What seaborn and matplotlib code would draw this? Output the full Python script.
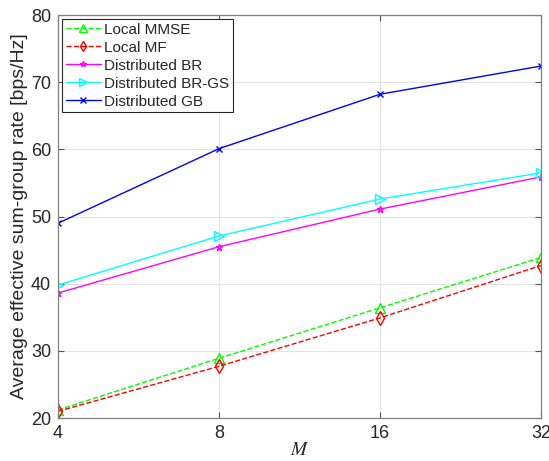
import matplotlib
matplotlib.use("Agg")
import matplotlib.pyplot as plt
import seaborn as sns
import pandas as pd

sns.set_theme(style="whitegrid")
plt.rcParams["font.family"] = ["Liberation Sans", "DejaVu Sans"]
plt.rcParams["mathtext.fontset"] = "stix"

M = [4, 8, 16, 32]
local_mmse = [21.2, 28.9, 36.4, 43.9]
local_mf = [21.0, 27.7, 34.9, 42.7]
dist_br = [38.6, 45.5, 51.1, 55.9]
dist_br_gs = [39.8, 47.1, 52.6, 56.5]
dist_gb = [49.0, 60.1, 68.2, 72.4]

series = [
    ("Local MMSE", local_mmse, (0, 1, 0), "^", "--", 7),
    ("Local MF", local_mf, (1, 0, 0), "d", "--", 7),
    ("Distributed BR", dist_br, (1, 0, 1), "*", "-", 5),
    ("Distributed BR-GS", dist_br_gs, (0, 1, 1), ">", "-", 7),
    ("Distributed GB", dist_gb, (0, 0, 1), "x", "-", 5),
]

fig = plt.figure(figsize=(5.49, 4.61), dpi=100)
ax = fig.add_axes([58 / 549, 1 - 418 / 461, (541 - 58) / 549, (418 - 15) / 461])

for name, vals, color, mk, ls, ms in series:
    df = pd.DataFrame({"M": M, "rate": vals})
    sns.lineplot(data=df, x="M", y="rate", ax=ax, color=color, marker=mk,
                 linestyle=ls, markersize=ms, markerfacecolor="none",
                 markeredgecolor=color, markeredgewidth=1.0, linewidth=1.0,
                 label=name)

ax.set_xscale("log", base=2)
ax.set_xlim(4, 32)
ax.set_ylim(20, 80)
ax.set_xticks(M)
ax.set_xticklabels([str(m) for m in M])
ax.set_yticks(range(20, 81, 10))
ax.minorticks_off()

ax.set_facecolor("white")
ax.grid(True, color="#e3e3e3", linewidth=0.8)
for sp in ax.spines.values():
    sp.set_visible(True)
    sp.set_color("#808080")
    sp.set_linewidth(0.9)
ax.tick_params(axis="both", which="both", direction="in", length=4, width=0.8,
               color="#555555", labelsize=13, labelcolor="#262626",
               top=True, right=True, bottom=True, left=True, pad=5)

ax.set_xlabel("$M$", fontsize=14, color="#262626", labelpad=0)
ax.set_ylabel("Average effective sum-group rate [bps/Hz]", fontsize=14,
              color="#262626", labelpad=2)

leg = ax.legend(loc="upper left", fontsize=11, frameon=True, fancybox=False,
                borderpad=0.25, labelspacing=0.26, handlelength=2.3,
                handletextpad=0.2, borderaxespad=0.25, markerscale=0.8)
leg.get_frame().set_edgecolor("#262626")
leg.get_frame().set_linewidth(0.8)
leg.get_frame().set_facecolor("white")
leg.get_frame().set_alpha(1.0)

fig.savefig("out.png", dpi=100)
